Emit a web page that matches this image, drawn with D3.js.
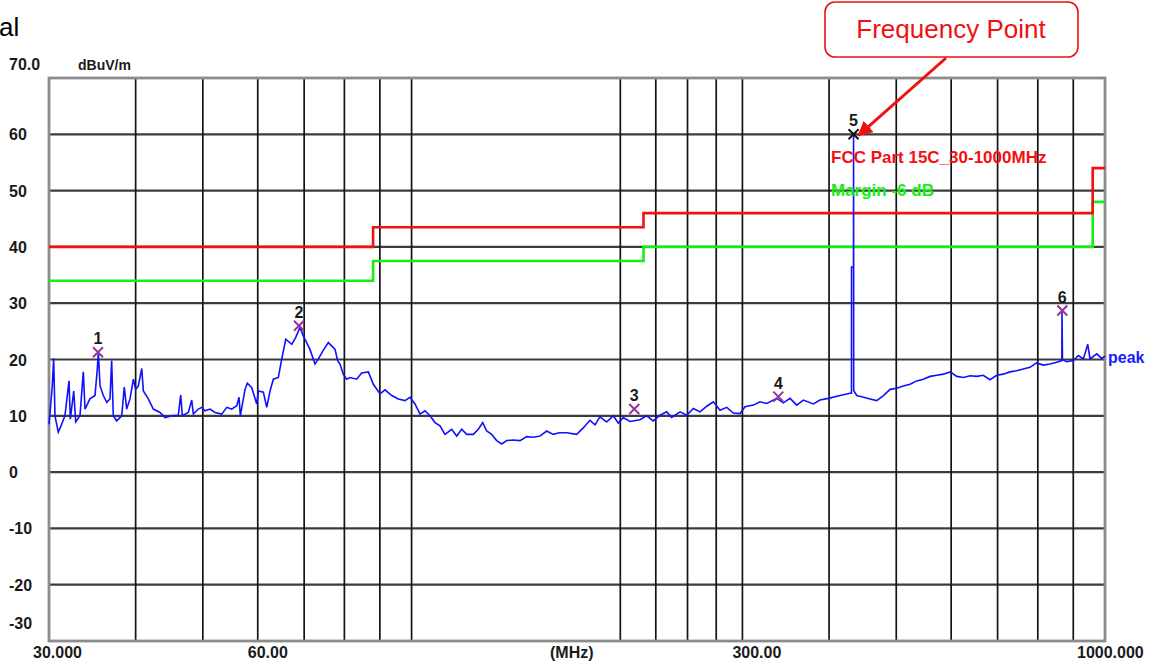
<!DOCTYPE html>
<html>
<head>
<meta charset="utf-8">
<style>
body { margin: 0; background: #fff; }
svg text { font-family: Arial, "Liberation Sans", sans-serif; }
.lbl { font-weight: bold; font-size: 16px; fill: #1a1a1a; }
</style>
</head>
<body>
<script src="https://cdn.jsdelivr.net/npm/d3@7/dist/d3.min.js"></script>
<script>

// grid + axis labels
var gridMHz = [40, 50, 60, 70, 80, 90, 100, 200, 225, 250, 275, 300, 400, 500, 600, 700, 800, 900];
var gridDb = [-20, -10, 0, 10, 20, 30, 40, 50, 60];
var yLabelDb = [70, 60, 50, 40, 30, 20, 10, 0, -10, -20, -30];
var yLabelText = ["70.0", "60", "50", "40", "30", "20", "10", "0", "-10", "-20", "-30"];
var xLabelMHz = [30, 60, 300, 1000];
var xLabelText = ["30.000", "60.00", "300.00", "1000.000"];

// FCC Part 15C limit and -6 dB margin (step after)
var limitMHz = [30, 88, 216, 960, 1000];
var limitDb = [40, 43.5, 46, 54, 54];
var marginDb = [34, 37.5, 40, 48, 48];

// markers
var markerNo = [1, 2, 3, 4, 5, 6];
var markerMHz = [35.3, 68.8, 209.5, 338.0, 433.9, 867.8];
var markerDb = [21.3, 26.0, 11.2, 13.4, 60.0, 28.7];

// peak trace [MHz, dBuV/m]
var peakTrace = [
  [30.00, 8.5], [30.33, 15.3], [30.47, 20.2], [30.60, 10.0], [30.94, 7.1], [31.22, 8.2],
  [31.63, 10.0], [32.06, 16.2], [32.20, 9.4], [32.57, 14.4], [32.78, 8.9], [33.25, 10.0],
  [33.62, 17.8], [33.81, 11.2], [34.37, 13.0], [34.95, 13.6], [35.22, 18.3], [35.34, 21.3],
  [35.54, 15.3], [35.93, 13.6], [36.34, 12.4], [36.73, 13.0], [36.94, 19.8], [37.14, 10.0],
  [37.56, 9.1], [38.19, 10.0], [38.52, 15.1], [38.83, 11.2], [39.26, 13.0], [39.70, 16.5],
  [40.01, 14.7], [40.36, 15.3], [40.82, 18.4], [41.04, 14.4], [41.72, 13.0], [42.42, 11.2],
  [43.37, 10.6], [44.10, 9.7], [45.09, 10.0], [46.09, 10.1], [46.46, 13.7], [46.71, 10.0],
  [47.65, 10.6], [48.19, 12.8], [48.45, 10.3], [49.26, 11.2], [49.82, 11.5], [50.37, 10.9],
  [51.21, 11.2], [52.07, 10.6], [53.24, 10.3], [54.13, 11.5], [55.02, 11.2], [55.96, 11.8],
  [56.39, 13.3], [56.63, 10.0], [57.52, 14.7], [57.96, 15.8], [58.82, 15.0], [59.80, 12.1],
  [60.12, 14.4], [61.13, 14.2], [61.82, 11.5], [62.50, 14.4], [63.19, 16.5], [64.25, 16.8],
  [64.98, 20.1], [65.85, 23.6], [67.17, 22.7], [68.05, 23.9], [69.03, 25.7], [69.80, 24.2],
  [70.19, 23.6], [71.36, 21.8], [72.56, 19.2], [73.38, 20.1], [74.45, 21.5], [75.85, 23.0],
  [77.12, 22.1], [77.56, 21.8], [78.24, 19.8], [78.84, 19.2], [79.71, 17.4], [80.61, 16.5],
  [81.50, 16.8], [83.33, 16.5], [84.73, 17.6], [86.63, 17.8], [88.08, 15.6], [90.06, 13.9],
  [91.57, 14.6], [93.63, 13.6], [95.68, 13.0], [97.83, 12.7], [99.47, 13.3], [101.14, 12.1],
  [102.83, 10.3], [104.55, 10.9], [106.30, 10.0], [108.08, 8.8], [109.89, 8.2], [111.73, 6.7],
  [114.25, 7.6], [116.16, 6.4], [118.11, 7.6], [120.08, 6.7], [122.74, 6.7], [124.80, 7.6],
  [126.64, 8.8], [128.35, 7.3], [130.47, 6.7], [132.66, 5.6], [134.88, 5.0], [137.15, 5.6],
  [140.19, 5.7], [143.34, 5.6], [146.56, 6.3], [149.80, 6.2], [153.17, 6.4], [156.62, 7.3],
  [160.07, 6.7], [163.33, 7.0], [167.37, 7.0], [173.02, 6.7], [176.7, 7.8], [180.8, 9.2],
  [183.9, 8.4], [186.9, 9.8], [191.1, 8.9], [195.4, 10.0], [198.7, 8.7], [202.0, 9.7],
  [206.5, 9.0], [213.5, 9.3], [218.3, 10.0], [223.1, 9.1], [228.2, 10.1], [233.3, 10.7],
  [237.2, 9.7], [243.9, 10.7], [249.3, 10.1], [254.9, 11.3], [260.6, 10.7], [266.5, 11.7],
  [272.4, 12.5], [278.5, 11.0], [284.8, 11.5], [291.1, 10.5], [297.6, 10.4], [302.6, 11.6],
  [311.1, 11.9], [318.0, 12.5], [325.2, 12.2], [336.2, 13.1], [343.7, 12.3], [351.4, 13.1],
  [359.3, 11.9], [367.3, 12.8], [379.7, 12.1], [388.2, 12.8], [399.1, 13.1], [414.87, 13.6],
  [428.88, 14.0], [430.90, 14.0], [431.00, 36.4], [433.80, 36.4], [433.90, 60.0], [434.10, 14.5],
  [438.50, 13.6], [448.50, 13.3], [458.30, 13.0], [468.60, 12.7], [479.10, 13.6], [489.80, 14.7],
  [500.60, 14.9], [511.90, 15.3], [523.40, 15.6], [535.20, 16.2], [547.10, 16.5], [559.40, 17.0],
  [572.00, 17.2], [584.70, 17.4], [598.00, 17.8], [611.30, 17.0], [624.80, 16.8], [638.90, 17.1],
  [653.10, 17.0], [667.50, 17.2], [682.60, 16.4], [697.90, 17.2], [713.40, 17.4], [729.40, 17.8],
  [745.80, 18.0], [762.40, 18.3], [779.50, 18.6], [796.90, 19.4], [814.70, 19.0], [833.10, 19.2],
  [851.90, 19.5], [866.50, 19.8], [867.00, 28.7], [867.80, 23.3], [868.30, 20.0], [880.80, 19.6],
  [900.30, 19.8], [915.30, 20.7], [930.70, 20.1], [944.30, 22.7], [951.50, 20.1], [973.00, 21.0],
  [989.30, 20.2], [1000.00, 20.6]
];

var width = 1152, height = 665;

var svg = d3.select("body").append("svg")
    .attr("width", width)
    .attr("height", height);

var x = d3.scaleLog().domain([30, 1000]).range([49, 1105]);
var y = d3.scaleLinear().domain([-30, 70]).range([641, 78]);

// cut-off heading text from the page above
svg.append("text")
    .attr("x", -1).attr("y", 36)
    .style("font-size", "26px")
    .text("al");

// grid
svg.append("g").selectAll("line")
    .data(gridDb)
    .enter().append("line")
    .attr("x1", x(30)).attr("x2", x(1000))
    .attr("y1", function(d) { return y(d); })
    .attr("y2", function(d) { return y(d); })
    .style("stroke", "#3c3c3c")
    .style("stroke-width", 2.2);

svg.append("g").selectAll("line")
    .data(gridMHz)
    .enter().append("line")
    .attr("x1", function(d) { return x(d); })
    .attr("x2", function(d) { return x(d); })
    .attr("y1", y(70)).attr("y2", y(-30))
    .style("stroke", "#141414")
    .style("stroke-width", 1.7);

// frame
svg.append("rect")
    .attr("x", x(30)).attr("y", y(70))
    .attr("width", x(1000) - x(30))
    .attr("height", y(-30) - y(70))
    .style("fill", "none")
    .style("stroke", "#8c8c8c")
    .style("stroke-width", 2.8);

// y labels
svg.append("g").selectAll("text")
    .data(yLabelDb)
    .enter().append("text")
    .attr("class", "lbl")
    .attr("x", 9)
    .attr("y", function(d) {
      if (d == 70) return y(d) - 8;
      if (d == -30) return y(d) - 12;
      return y(d) + 6;
    })
    .text(function(d, i) { return yLabelText[i]; });

svg.append("text")
    .attr("class", "lbl")
    .attr("x", 78).attr("y", 70)
    .style("font-size", "14px")
    .text("dBuV/m");

// x labels
svg.append("g").selectAll("text")
    .data(xLabelMHz)
    .enter().append("text")
    .attr("class", "lbl")
    .attr("x", function(d) {
      if (d == 30) return x(d) - 16;
      if (d == 1000) return x(d) - 28;
      return x(d) - 10;
    })
    .attr("y", 658)
    .text(function(d, i) { return xLabelText[i]; });

svg.append("text")
    .attr("class", "lbl")
    .attr("x", 550).attr("y", 658)
    .text("(MHz)");

// limit + margin
var limitRows = limitMHz.map(function(f, i) { return {f: f, limit: limitDb[i], margin: marginDb[i]}; });

svg.append("path")
    .datum(limitRows)
    .attr("d", d3.line().curve(d3.curveStepAfter)
      .x(function(d) { return x(d.f); })
      .y(function(d) { return y(d.margin); }))
    .style("fill", "none")
    .style("stroke", "#14f014")
    .style("stroke-width", 2.6);

svg.append("path")
    .datum(limitRows)
    .attr("d", d3.line().curve(d3.curveStepAfter)
      .x(function(d) { return x(d.f); })
      .y(function(d) { return y(d.limit); }))
    .style("fill", "none")
    .style("stroke", "#f51010")
    .style("stroke-width", 2.6);

// peak trace
svg.append("path")
    .datum(peakTrace)
    .attr("d", d3.line()
      .x(function(d) { return x(d[0]); })
      .y(function(d) { return y(d[1]); }))
    .style("fill", "none")
    .style("stroke", "#1010ff")
    .style("stroke-width", 1.6);

svg.append("text")
    .attr("class", "lbl")
    .attr("x", 1108).attr("y", 363)
    .style("fill", "#1a1aff")
    .text("peak");

// legend texts
svg.append("text")
    .attr("class", "lbl")
    .attr("x", 831).attr("y", 163)
    .style("font-size", "17px")
    .style("fill", "#f51010")
    .text("FCC Part 15C_30-1000MHz");

svg.append("text")
    .attr("class", "lbl")
    .attr("x", 831).attr("y", 196)
    .style("font-size", "17px")
    .style("fill", "#14f014")
    .text("Margin -6 dB");

// markers
var mk = svg.append("g").selectAll("g")
    .data(markerNo)
    .enter().append("g")
    .attr("transform", function(d, i) {
      return "translate(" + x(markerMHz[i]) + "," + y(markerDb[i]) + ")";
    });

mk.append("path")
    .attr("d", "M-5,-5L5,5M-5,5L5,-5")
    .style("stroke", function(d) { return d == 5 ? "#111" : "#993399"; })
    .style("stroke-width", 2);

mk.append("text")
    .attr("class", "lbl")
    .attr("text-anchor", "middle")
    .attr("y", -8)
    .text(function(d) { return d; });

// callout
svg.append("defs").append("marker")
    .attr("id", "head")
    .attr("viewBox", "0 0 10 10")
    .attr("refX", 9).attr("refY", 5)
    .attr("markerWidth", 5).attr("markerHeight", 5)
    .attr("orient", "auto")
    .append("path")
    .attr("d", "M0,0L10,5L0,10z")
    .style("fill", "#ee1111");

svg.append("line")
    .attr("x1", 946).attr("y1", 58)
    .attr("x2", x(markerMHz[4]) + 5).attr("y2", y(markerDb[4]) + 1)
    .style("stroke", "#ee1111")
    .style("stroke-width", 3)
    .attr("marker-end", "url(#head)");

svg.append("rect")
    .attr("x", 825).attr("y", 2)
    .attr("width", 253).attr("height", 55)
    .attr("rx", 10)
    .style("fill", "#fff")
    .style("stroke", "#ee1111")
    .style("stroke-width", 1.6);

svg.append("text")
    .attr("x", 951).attr("y", 38)
    .attr("text-anchor", "middle")
    .style("font-size", "26px")
    .style("fill", "#ee1111")
    .text("Frequency Point");

</script>
</body>
</html>
